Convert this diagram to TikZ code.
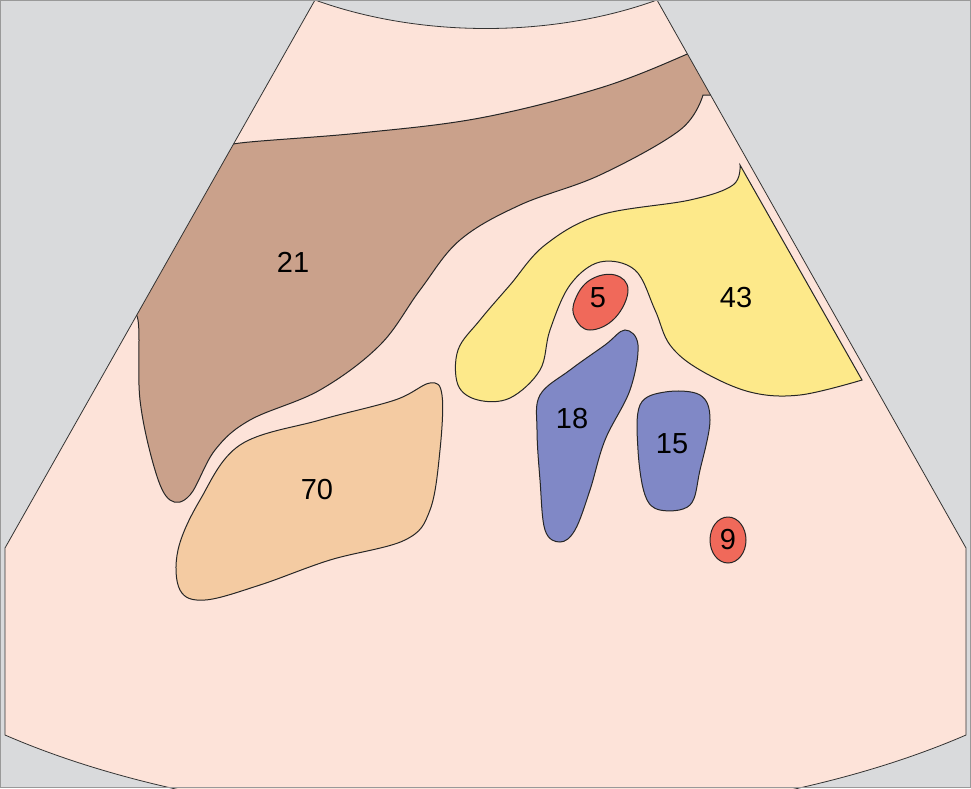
\documentclass[tikz,border=0pt]{standalone}
\usepackage{fontspec}
\setmainfont{Liberation Sans}
\definecolor{bgg}{HTML}{D9DADC}
\definecolor{fan}{HTML}{FDE3D9}
\definecolor{brn}{HTML}{CAA18B}
\definecolor{yel}{HTML}{FDE98A}
\definecolor{rd}{HTML}{F0695A}
\definecolor{blu}{HTML}{8088C6}
\definecolor{org}{HTML}{F4CBA2}
\tikzset{organ/.style={draw=black!85,line width=1pt},lab/.style={font=\fontsize{29}{32}\selectfont}}
\def\fanpath{(315,0) .. controls (420,38) and (552,38) .. (657,0) -- (966,548) -- (966,735) .. controls (700,850) and (270,850) .. (5,735) -- (5,548) -- cycle}
\begin{document}
\begin{tikzpicture}[x=1pt,y=-1pt]
\useasboundingbox (0,0) rectangle (971,788);
\fill[bgg] (0,0) rectangle (971,788);
\begin{scope}
\clip (0,0) rectangle (971,788);
\fill[fan] \fanpath;
\begin{scope}
\clip \fanpath;
% 21
\draw[organ,fill=brn] plot[smooth,tension=0.6] coordinates{(220,150)(240,143)(360,133)(480,118)(600,88)(685,55)(700,45)} -- (730,60) -- (720,95) -- plot[smooth,tension=0.6] coordinates{(703,95)(680,130)(600,175)(520,205)(460,240)(420,290)(380,345)(320,390)(250,420)(215,450)(190,495)(170,500)(155,470)(140,400)(138,320)(125,310)} -- cycle;
\end{scope}
\draw[black!80,line width=0.8pt] \fanpath;
\end{scope}
\draw[black!40,line width=0.8pt] (0.5,0.5) rectangle (970.5,787.5);
% 43
\draw[organ,fill=yel] plot[smooth,tension=0.6] coordinates{(862,380)(800,395)(750,392)(700,370)(670,345)(655,310)(635,270)(600,262)(570,285)(550,330)(540,370)(510,398)(478,400)(458,385)(458,350)(480,320)(510,285)(545,245)(600,215)(690,200)(733,185)(740,165)} -- cycle;
% 70
\draw[organ,fill=org] plot[smooth cycle,tension=0.6] coordinates{(240,445)(320,420)(395,400)(430,383)(442,395)(440,450)(430,510)(405,540)(330,560)(260,585)(205,600)(180,590)(178,550)(200,500)};
% 5
\draw[organ,fill=rd] plot[smooth cycle,tension=0.7] coordinates{(575,300)(590,280)(615,275)(628,290)(615,318)(590,330)(575,318)};
% 18
\draw[organ,fill=blu] plot[smooth cycle,tension=0.6] coordinates{(540,395)(570,370)(605,345)(625,330)(638,345)(630,390)(605,440)(590,490)(575,530)(560,542)(545,530)(540,480)(537,430)};
% 15
\draw[organ,fill=blu] plot[smooth cycle,tension=0.6] coordinates{(640,405)(665,392)(700,395)(710,420)(700,470)(690,505)(660,510)(645,495)(638,450)};
% 9
\draw[organ,fill=rd] (728,540) ellipse[x radius=18,y radius=23];
\node[lab] (l21) at (293,262) {21};
\node[lab] (l70) at (317,490) {70};
\node[lab] (l5) at (598,298) {5};
\node[lab] (l43) at (736,298) {43};
\node[lab] (l18) at (572,419) {18};
\node[lab] (l15) at (672,444) {15};
\node[lab] (l9) at (728,540) {9};
\end{tikzpicture}
\end{document}
